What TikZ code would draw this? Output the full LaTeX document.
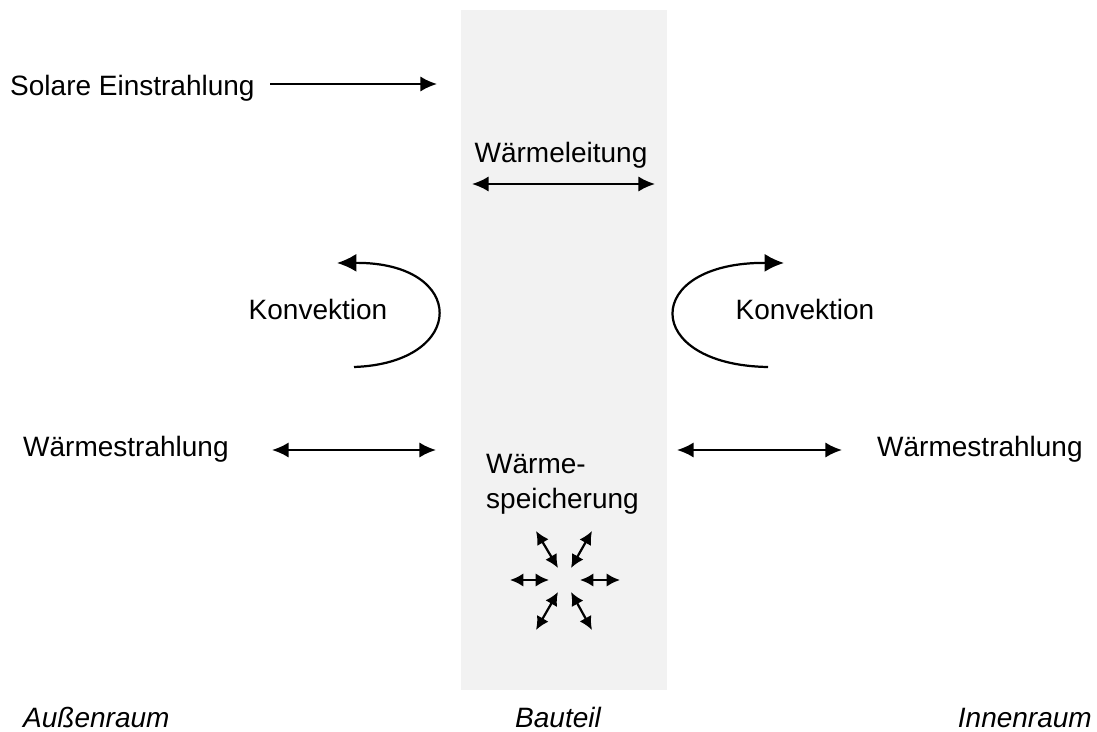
\documentclass[tikz,border=0pt]{standalone}
\usepackage{fontspec}
\setmainfont{Liberation Sans}
\usetikzlibrary{arrows.meta}

\definecolor{wallgray}{RGB}{242,242,242}

\begin{document}
\begin{tikzpicture}[%
      x=0.03cm, y=-0.03cm,
      every node/.style={inner sep=0pt, font=\fontsize{23.9}{28}\selectfont},
      roomlabel/.style={font=\fontsize{23.9}{28}\selectfont\itshape},
      flow/.style={line width=1.9pt, -{Latex[length=0.5cm,width=0.46cm]}},
      bigflow/.style={line width=1.9pt, -{Latex[length=0.58cm,width=0.54cm]}},
      both/.style={line width=1.9pt, {Latex[length=0.5cm,width=0.46cm]}-{Latex[length=0.5cm,width=0.46cm]}},
      spread/.style={line width=1.9pt, {Latex[length=0.4cm,width=0.4cm]}-{Latex[length=0.4cm,width=0.4cm]}},
      ]
      \useasboundingbox (0,0) rectangle (1097,731);
      \fill [color=wallgray] (461,10) rectangle (667,690);

      % Aussenraum
      \node (solar) [anchor=base west] at (10,95) {Solare Einstrahlung};
      \coordinate (solA) at (270,84);
      \coordinate (solB) at (437,84);
      \draw [flow] (solA) -- (solB);

      \node (konvL) [anchor=base] at (318,319) {Konvektion};
      \coordinate (kLa) at (354,367);
      \coordinate (kLb) at (337,263);
      \draw [bigflow] (kLa) .. controls (468,363) and (468,262) .. (kLb);

      \node (strahlL) [anchor=base west] at (23,456) {Wärmestrahlung};
      \coordinate (sLa) at (272,450);
      \coordinate (sLb) at (436,450);
      \draw [both] (sLa) -- (sLb);

      % Bauteil
      \node (leitung) [anchor=base] at (561,162) {Wärmeleitung};
      \coordinate (lA) at (472,184);
      \coordinate (lB) at (655,184);
      \draw [both] (lA) -- (lB);

      \node (speicherA) [anchor=base west] at (486,473) {Wärme-};
      \node (speicherB) [anchor=base west] at (486,508) {speicherung};

      \coordinate (pW1) at (510,580);  \coordinate (pW2) at (549,580);
      \coordinate (pE1) at (580,580);  \coordinate (pE2) at (620,580);
      \coordinate (pNW1) at (536,531); \coordinate (pNW2) at (558,568);
      \coordinate (pNE1) at (592,531); \coordinate (pNE2) at (571,568);
      \coordinate (pSW1) at (558,592); \coordinate (pSW2) at (536,630);
      \coordinate (pSE1) at (571,592); \coordinate (pSE2) at (592,630);
      \draw [spread] (pW1) -- (pW2);
      \draw [spread] (pE1) -- (pE2);
      \draw [spread] (pNW1) -- (pNW2);
      \draw [spread] (pNE1) -- (pNE2);
      \draw [spread] (pSW1) -- (pSW2);
      \draw [spread] (pSE1) -- (pSE2);

      % Innenraum
      \node (konvR) [anchor=base] at (805,319) {Konvektion};
      \coordinate (kRa) at (768,367);
      \coordinate (kRb) at (784,263);
      \draw [bigflow] (kRa) .. controls (641,365) and (641,262) .. (kRb);

      \node (strahlR) [anchor=base west] at (877,456) {Wärmestrahlung};
      \coordinate (sRa) at (677,450);
      \coordinate (sRb) at (842,450);
      \draw [both] (sRa) -- (sRb);

      % Raeume
      \node (aussen) [roomlabel, anchor=base west] at (23,727) {Außenraum};
      \node (bauteil) [roomlabel, anchor=base] at (558,727) {Bauteil};
      \node (innen) [roomlabel, anchor=base east] at (1092,727) {Innenraum};
      \end{tikzpicture}
\end{document}
